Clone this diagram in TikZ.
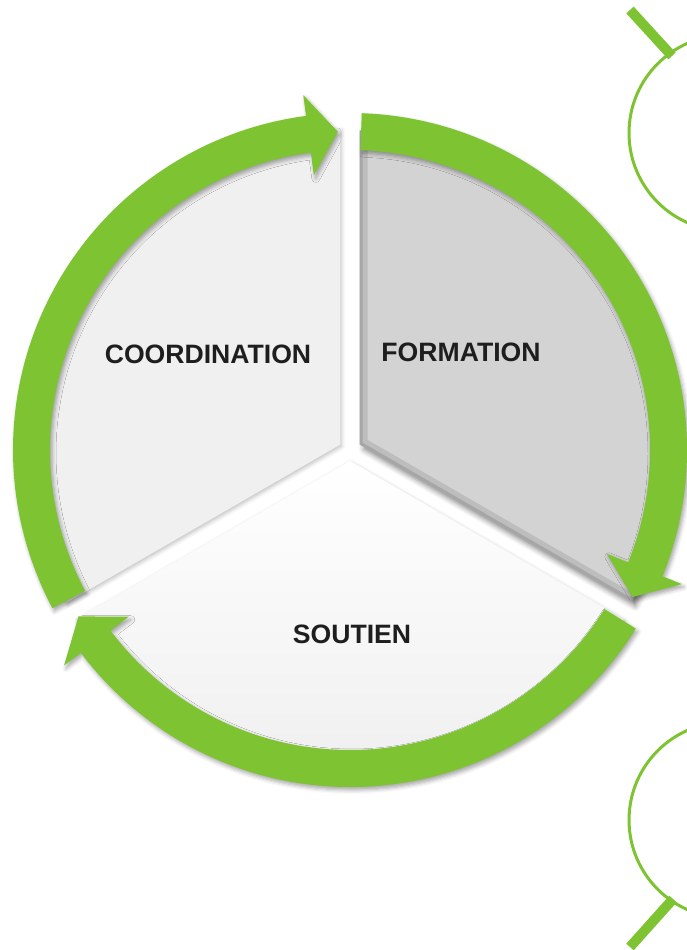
\documentclass[tikz,border=0pt]{standalone}
\usepackage{fontspec}
\setmainfont{Liberation Sans}
\usetikzlibrary{shadows.blur}
\definecolor{grn}{RGB}{126,196,50}
\definecolor{coordfill}{RGB}{240,240,240}
\definecolor{formfill}{RGB}{211,211,211}
\definecolor{txt}{RGB}{30,30,30}
\tikzset{
  arrowshape/.style={fill=grn, blur shadow={shadow xshift=2pt, shadow yshift=-3pt, shadow opacity=35, shadow blur radius=4pt}},
  segshadow/.style={blur shadow={shadow xshift=1pt, shadow yshift=-2pt, shadow opacity=25, shadow blur radius=4pt}},
  seglabel/.style={font=\bfseries\fontsize{26.6}{30}\selectfont, text=txt},
  deco/.style={draw=grn, line width=3pt},
  stick/.style={draw=grn, line width=10pt}
}
\begin{document}
\begin{tikzpicture}[x=1pt,y=1pt]
\useasboundingbox (0,0) rectangle (687,950);
\clip (0,0) rectangle (687,950);
\begin{scope}[shift={(350,500)}]
  % segments
  \fill[coordfill, segshadow] (150:11) -- ++(90:316) arc[start angle=90,end angle=210,radius=316] -- cycle;
  \shade[top color=white, bottom color=gray!14, segshadow] (270:11) -- ++(210:316) arc[start angle=210,end angle=330,radius=316] -- cycle;
  \fill[formfill, blur shadow={shadow xshift=4pt, shadow yshift=-5pt, shadow opacity=45, shadow blur radius=5pt}] (30:11) -- ++(-30:314) arc[start angle=-30,end angle=90,radius=314] -- cycle;
  \begin{scope}
    \clip (30:11) -- ++(-30:314) arc[start angle=-30,end angle=90,radius=314] -- cycle;
    \draw[black, opacity=0.10, line width=16pt] (30:11) -- ++(-30:314) arc[start angle=-30,end angle=90,radius=314] -- cycle;
    \draw[black, opacity=0.12, line width=6pt] (30:11) -- ++(-30:314) arc[start angle=-30,end angle=90,radius=314] -- cycle;
  \end{scope}
  % arrows
  \fill[arrowshape] (208:337) arc[start angle=208,end angle=97.5,radius=337] -- (97.5:358) -- (92.2:318.5) -- (97.5:277) -- (97.5:300) arc[start angle=97.5,end angle=208,radius=300] -- cycle;
  \fill[arrowshape] (88:337) arc[start angle=88,end angle=-22,radius=337] -- (-22:358) -- (-27.5:318.5) -- (-22:277) -- (-22:300) arc[start angle=-22,end angle=88,radius=300] -- cycle;
  \fill[arrowshape] (-32:337) arc[start angle=-32,end angle=-143,radius=337] -- (-143:358) -- (-148.5:318.5) -- (-143:277) -- (-143:300) arc[start angle=-143,end angle=-32,radius=300] -- cycle;
\end{scope}
% labels
\node[seglabel] (coord) at (208,596) {COORDINATION};
\node[seglabel] (form) at (461,598) {FORMATION};
\node[seglabel] (sout) at (352,316) {SOUTIEN};
% right-edge decorations
\draw[deco] (727,817) circle[radius=98];
\draw[stick] (630,940) -- (672,894);
\draw[deco] (727,130) circle[radius=98];
\draw[stick] (673,51) -- (630,3);
\end{tikzpicture}
\end{document}
